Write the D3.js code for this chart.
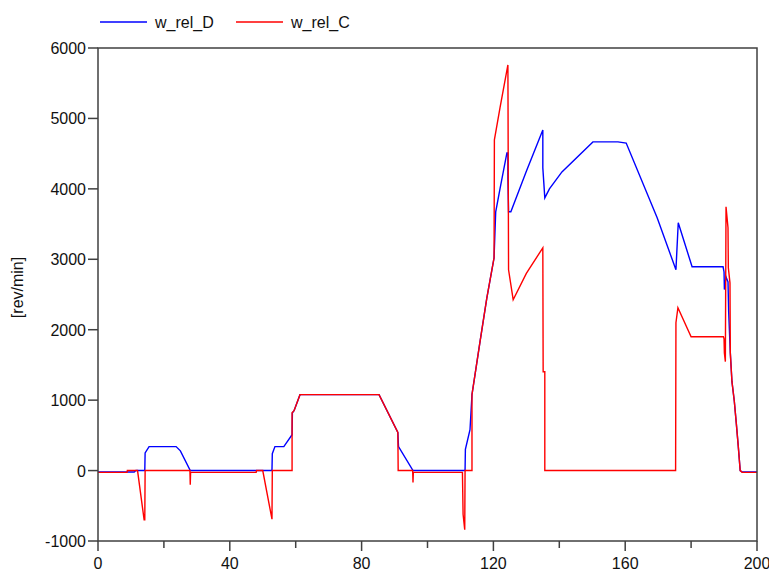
<!DOCTYPE html>
<html>
<head>
<meta charset="utf-8">
<script src="https://cdn.jsdelivr.net/npm/d3@7"></script>
<style>
	body { margin: 0; background: #fff; }
	svg { display: block; font-family: "Liberation Sans", Arial, sans-serif; }
	.frame { stroke: #404040; stroke-width: 1.5; fill: none; }
	.tick-label { font-size: 16px; fill: #111; }
</style>
</head>
<body>
<svg id="chart"></svg>
<script>
const WIDTH = 769;
const HEIGHT = 574;

// time [s] vs speed [rev/min]
const wRelD = [
	[0, -20], [11, -20], [11.5, 0], [14.2, 0], [14.3, 250], [15.5, 340], [23.7, 340],
	[25, 280], [28, 0], [52.8, 0], [52.9, 240], [53.7, 340], [56.4, 340], [58.9, 510],
	[59, 820], [59.5, 850], [61.3, 1078], [85.3, 1078], [91, 540], [91.2, 340],
	[95.6, 0], [111.4, 0], [111.5, 300], [112.9, 580], [113.5, 1078], [116, 1850],
	[118, 2450], [120.2, 3021], [120.7, 3674], [122, 4000], [124.1, 4510], [124.4, 4510],
	[124.4, 4156], [124.6, 3674], [125.3, 3674], [130, 4250], [135, 4837], [135, 4298],
	[135.6, 3872], [137, 4000], [140.8, 4241], [150.2, 4667], [157.8, 4667],
	[160.3, 4650], [169.7, 3589], [175.4, 2851], [176.1, 3518], [180.3, 2894],
	[189.7, 2894], [190, 2820], [190.1, 2570], [190.6, 2750], [191.2, 2680],
	[191.4, 2255], [191.9, 1673], [192.4, 1262], [193.1, 992], [193.7, 680],
	[194.3, 354], [194.9, 0], [195.5, -20], [200, -20]
];

const wRelC = [
	[0, -25], [8.8, -25], [8.9, 0], [12, 0], [14, -700], [14.2, -700], [14.3, 0],
	[27.9, 0], [28, -200], [28.1, -25], [48, -25], [48.1, 0], [50, 0], [52.8, -690],
	[52.9, 0], [58.9, 0], [58.9, 820], [59.5, 850], [61.3, 1078], [85.3, 1078],
	[91, 540], [91.1, 0], [95.5, 0], [95.6, -170], [95.7, -25], [110.6, -25],
	[110.8, -620], [111.3, -840], [111.4, 0], [113.5, 0], [113.5, 1078], [116, 1850],
	[118, 2450], [120.2, 3021], [120.3, 4695], [122, 5150], [124.4, 5759],
	[124.6, 2851], [126, 2426], [130, 2800], [135, 3163], [135.1, 1404], [135.6, 1404],
	[135.6, 0], [175.3, 0], [175.4, 2099], [176, 2312], [180, 1900], [189.8, 1900],
	[190, 1870], [190.1, 1670], [190.4, 1546], [190.6, 3745], [191.2, 3447],
	[191.3, 2880], [191.8, 2666], [191.9, 1673], [192.4, 1262], [193.1, 992],
	[193.7, 680], [194.3, 354], [194.9, 0], [195.5, -25], [200, -25]
];

const seriesNames = ["w_rel_D", "w_rel_C"];
const seriesColors = ["#0000ff", "#ff0000"];
const xTicks = [0, 20, 40, 60, 80, 100, 120, 140, 160, 180, 200];
const xLabelTicks = [0, 40, 80, 120, 160, 200];
const yTicks = [-1000, 0, 1000, 2000, 3000, 4000, 5000, 6000];
const yLabel = "[rev/min]";

const svg = d3.select("#chart").attr("width", WIDTH).attr("height", HEIGHT);

const xScale = d3.scaleLinear([0, 200], [98, 757]);
const yScale = d3.scaleLinear([-1000, 6000], [541, 48]);

// lines first, frame on top
const line = d3.line().x(d => xScale(d[0])).y(d => yScale(d[1]));
svg.selectAll(".series")
	.data([wRelD, wRelC])
	.join("path")
	.classed("series", true)
	.attr("d", line)
	.attr("fill", "none")
	.attr("stroke", (d, i) => seriesColors[i])
	.attr("stroke-width", 1.4);

// frame
svg.append("rect")
	.classed("frame", true)
	.attr("x", xScale(0))
	.attr("y", yScale(6000))
	.attr("width", xScale(200) - xScale(0))
	.attr("height", yScale(-1000) - yScale(6000));

// x ticks
svg.selectAll(".xtick")
	.data(xTicks)
	.join("line")
	.classed("xtick", true)
	.attr("x1", d => xScale(d))
	.attr("x2", d => xScale(d))
	.attr("y1", yScale(-1000))
	.attr("y2", d => yScale(-1000) + (xLabelTicks.includes(d) ? 10 : 7))
	.attr("stroke", "#404040")
	.attr("stroke-width", 1.5);

svg.selectAll(".xlabel")
	.data(xLabelTicks)
	.join("text")
	.classed("tick-label", true)
	.attr("x", d => xScale(d))
	.attr("y", yScale(-1000) + 28)
	.attr("text-anchor", "middle")
	.text(d => d);

// y ticks
svg.selectAll(".ytick")
	.data(yTicks)
	.join("line")
	.classed("ytick", true)
	.attr("x1", xScale(0) - 10)
	.attr("x2", xScale(0))
	.attr("y1", d => yScale(d))
	.attr("y2", d => yScale(d))
	.attr("stroke", "#404040")
	.attr("stroke-width", 1.5);

svg.selectAll(".ylabel")
	.data(yTicks)
	.join("text")
	.classed("tick-label", true)
	.attr("x", xScale(0) - 12)
	.attr("y", d => yScale(d) + 6)
	.attr("text-anchor", "end")
	.text(d => d);

svg.append("text")
	.attr("transform", `translate(23, ${yScale(2600)}) rotate(-90)`)
	.attr("text-anchor", "middle")
	.attr("font-size", 16)
	.attr("fill", "#111")
	.text(yLabel);

// legend
const legend = svg.selectAll(".legend")
	.data(seriesNames)
	.join("g")
	.classed("legend", true)
	.attr("transform", (d, i) => `translate(${100 + i * 136}, 22)`);

legend.append("line")
	.attr("x1", 0)
	.attr("x2", 47)
	.attr("stroke", (d, i) => seriesColors[i])
	.attr("stroke-width", 1.4);

legend.append("text")
	.attr("x", 55)
	.attr("y", 6)
	.attr("font-size", 16)
	.attr("fill", "#111")
	.text(d => d);
</script>
</body>
</html>
